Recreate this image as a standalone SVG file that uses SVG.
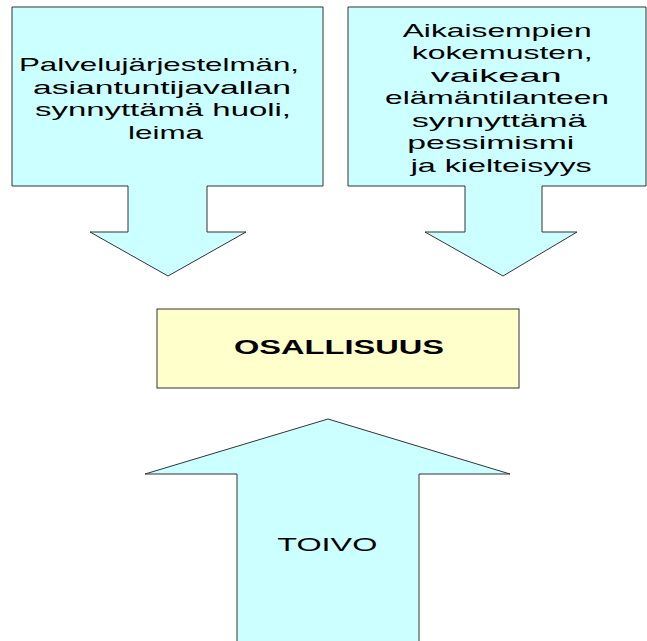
<svg xmlns="http://www.w3.org/2000/svg" width="647" height="641" viewBox="0 0 647 641">
<style>
.cy{fill:#CCFFFF;stroke:#333333;stroke-width:1}
.ye{fill:#FFFFCC;stroke:#333333;stroke-width:1}
.t{font-family:"Liberation Sans",Arial,sans-serif;font-size:18.5px;fill:#000000}
.b{font-family:"Liberation Sans",Arial,sans-serif;font-size:19.5px;font-weight:bold;fill:#000000}
</style>
<rect width="647" height="641" fill="#FFFFFF"/>
<g id="node-palvelu">
<path class="cy" d="M12,7 H323 V186 H207 V232 H246 L168,276 L90,232 H128 V186 H12 Z"/>
<text class="t" x="19" y="71" textLength="280" lengthAdjust="spacingAndGlyphs">Palvelujärjestelmän,</text>
<text class="t" x="33" y="93.5" textLength="258" lengthAdjust="spacingAndGlyphs">asiantuntijavallan</text>
<text class="t" x="35" y="116" textLength="256" lengthAdjust="spacingAndGlyphs">synnyttämä huoli,</text>
<text class="t" x="128" y="138.5" textLength="75" lengthAdjust="spacingAndGlyphs">leima</text>
</g>
<g id="node-aikaisempien">
<path class="cy" d="M348,7 H646 V186 H542 V232 H577 L503,276 L425,232 H465 V186 H348 Z"/>
<text class="t" x="402.7" y="36.5" textLength="189" lengthAdjust="spacingAndGlyphs">Aikaisempien</text>
<text class="t" x="411.7" y="59" textLength="181" lengthAdjust="spacingAndGlyphs">kokemusten,</text>
<text class="t" x="430.7" y="81.5" textLength="131" lengthAdjust="spacingAndGlyphs">vaikean</text>
<text class="t" x="385" y="104" textLength="224" lengthAdjust="spacingAndGlyphs">elämäntilanteen</text>
<text class="t" x="411.7" y="126.5" textLength="175" lengthAdjust="spacingAndGlyphs">synnyttämä</text>
<text class="t" x="407.3" y="149" textLength="167" lengthAdjust="spacingAndGlyphs">pessimismi</text>
<text class="t" x="410.7" y="171.5" textLength="181" lengthAdjust="spacingAndGlyphs">ja kielteisyys</text>
</g>
<g id="node-osallisuus">
<rect class="ye" x="157" y="309" width="362" height="79"/>
<text class="b" x="234" y="354" textLength="210" lengthAdjust="spacingAndGlyphs">OSALLISUUS</text>
</g>
<g id="node-toivo">
<path class="cy" d="M328,419 L510,474 H419 V645 H237 V474 H145 Z"/>
<text class="t" x="277.3" y="550.7" textLength="100" lengthAdjust="spacingAndGlyphs">TOIVO</text>
</g>
<g id="connectors"></g>
</svg>
